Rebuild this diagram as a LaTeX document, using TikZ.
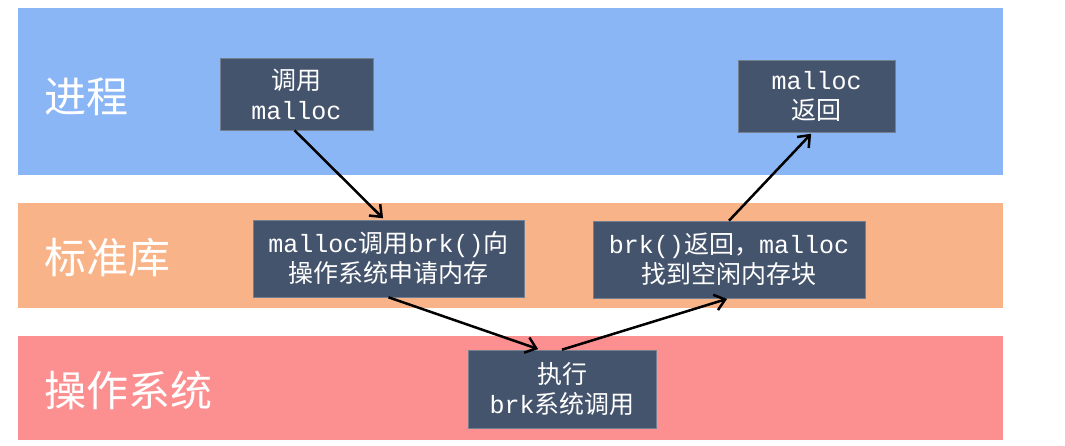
\documentclass[tikz,border=0pt]{standalone}
\usepackage{fontspec}
\setmainfont{Liberation Mono}
\newfontfamily\cjk{Noto Sans CJK SC}
\usetikzlibrary{arrows.meta}
\definecolor{bandblue}{HTML}{8AB6F5}
\definecolor{bandorange}{HTML}{F8B388}
\definecolor{bandred}{HTML}{FC8F90}
\definecolor{boxdark}{HTML}{45546D}
\newcommand\zh[1]{{\cjk #1}}
\begin{document}
\begin{tikzpicture}[x=1pt,y=-1pt,
  stepbox/.style={fill=boxdark, text=white, draw=boxdark!75!white, line width=0.6pt,
    align=center, inner sep=0pt, font=\fontsize{25}{30}\selectfont},
  layerlabel/.style={text=white, anchor=west, inner sep=0pt, font=\cjk\fontsize{42}{44}\selectfont},
  flow/.style={-{Straight Barb[length=10pt,width=16pt,line width=2.5pt]}, line width=2.5pt, black, shorten >=2pt}]
\useasboundingbox (0,0) rectangle (1065,446);
\fill[white] (0,0) rectangle (1065,446);
% bands
\fill[bandblue] (18,8) rectangle (1003,175);
\fill[bandorange] (18,203) rectangle (1003,308);
\fill[bandred] (18,336) rectangle (1003,440);
% layer labels
\node[layerlabel] (l1) at (44,97) {进程};
\node[layerlabel] (l2) at (44,258) {标准库};
\node[layerlabel] (l3) at (44,390) {操作系统};
% boxes
\node[stepbox, minimum width=153pt, minimum height=72pt] (b1) at (296.5,94)
  {\zh{调用}\\malloc};
\node[stepbox, minimum width=157pt, minimum height=72pt] (b2) at (816.5,96)
  {malloc\\\zh{返回}};
\node[stepbox, minimum width=271pt, minimum height=77pt] (b3) at (388.5,258.5)
  {malloc\zh{调用}brk()\zh{向}\\\zh{操作系统申请内存}};
\node[stepbox, minimum width=272pt, minimum height=77pt] (b4) at (729,259.5)
  {brk()\zh{返回，}malloc\\\zh{找到空闲内存块}};
\node[stepbox, minimum width=188pt, minimum height=78pt] (b5) at (562,389)
  {\zh{执行}\\brk\zh{系统调用}};
% connectors
\draw[flow] ([xshift=-2pt]b1.south) -- ([xshift=-4pt]b3.north);
\draw[flow] (b3.south) -- ([xshift=-22pt]b5.north);
\draw[flow] (b5.north) -- (b4.south);
\draw[flow] (b4.north) -- ([xshift=-4pt]b2.south);
\end{tikzpicture}
\end{document}
